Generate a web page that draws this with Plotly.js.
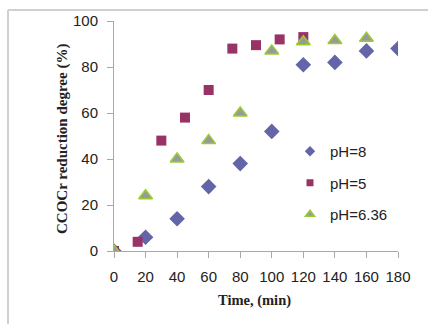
<!DOCTYPE html>
<html>
<head>
<meta charset="utf-8">
<script src="https://cdn.plot.ly/plotly-3.0.1.min.js"></script>
<style>
html,body{margin:0;padding:0;background:#fff;}
#chart{width:428px;height:324px;}
</style>
</head>
<body>
<div id="chart"></div>
<script>
// Data
const timePH8 = [0, 20, 40, 60, 80, 100, 120, 140, 160, 180];
const redPH8  = [0, 6, 14, 28, 38, 52, 81, 82, 87, 88];

const timePH5 = [0, 15, 30, 45, 60, 75, 90, 105, 120];
const redPH5  = [0, 4, 48, 58, 70, 88, 89.5, 92, 93];

const timePH636 = [0, 20, 40, 60, 80, 100, 120, 140, 160];
const redPH636  = [0, 24, 40, 48, 60, 87, 91, 91.5, 92.5];

const seriesNames = ['pH=8', 'pH=5', 'pH=6.36'];
const xTicks = [0, 20, 40, 60, 80, 100, 120, 140, 160, 180];
const yTicks = [0, 20, 40, 60, 80, 100];
const xTitle = 'Time, (min)';
const yTitle = 'CCOCr reduction degree (%)';

const styles = [
  {symbol: 'diamond', size: 12, color: '#6464a8'},
  {symbol: 'square', size: 10, color: '#993366'},
  {symbol: 'triangle-up', size: 12, color: '#999999', line: {color: '#99cc33', width: 1.5}}
];
const legendStyles = [
  {symbol: 'diamond', size: 8, color: '#6464a8'},
  {symbol: 'square', size: 7, color: '#993366'},
  {symbol: 'triangle-up', size: 8, color: '#999999', line: {color: '#99cc33', width: 1.5}}
];
const xs = [timePH8, timePH5, timePH636];
const ys = [redPH8, redPH5, redPH636];

const traces = [];
for (let i = 0; i < 3; i++) {
  traces.push({x: xs[i], y: ys[i], name: seriesNames[i], type: 'scatter', mode: 'markers',
               showlegend: false, marker: styles[i]});
}
for (let i = 0; i < 3; i++) {
  traces.push({x: [null], y: [null], name: seriesNames[i], legendgroup: 'g' + i, type: 'scatter',
               mode: 'markers', showlegend: true, marker: legendStyles[i], hoverinfo: 'skip'});
}

const L = 114, R = 398, T = 21, B = 251;
const px = v => (v - L) / (R - L);
const py = v => (B - v) / (B - T);

const layout = {
  width: 428, height: 324,
  margin: {l: L, r: 428 - R, t: T, b: 324 - B},
  paper_bgcolor: '#ffffff', plot_bgcolor: '#ffffff',
  showlegend: true,
  legend: {x: px(290), xanchor: 'left', y: py(135), yanchor: 'top',
           font: {family: 'Liberation Sans, Arial, sans-serif', size: 15, color: '#222'},
           tracegroupgap: 9, itemwidth: 30, bgcolor: 'rgba(0,0,0,0)'},
  xaxis: {range: [0, 180], tickvals: xTicks, ticktext: xTicks.map(String),
          showgrid: false, zeroline: false, showline: true, linecolor: '#a8a8a8', linewidth: 1,
          ticks: 'outside', ticklen: 6, tickcolor: '#a8a8a8', ticklabelstandoff: 6,
          tickfont: {family: 'Liberation Sans, Arial, sans-serif', size: 15, color: '#222'},
          title: {text: ''}},
  yaxis: {range: [0, 100], tickvals: yTicks, ticktext: yTicks.map(String),
          showgrid: false, zeroline: false, showline: true, linecolor: '#a8a8a8', linewidth: 1,
          ticks: 'outside', ticklen: 6, tickcolor: '#a8a8a8', ticklabelstandoff: 6,
          tickfont: {family: 'Liberation Sans, Arial, sans-serif', size: 15, color: '#222'},
          title: {text: ''}},
  annotations: [
    {text: '<b>' + xTitle + '</b>', xref: 'paper', yref: 'paper', x: px(254), y: py(300),
     xanchor: 'center', yanchor: 'middle', showarrow: false,
     font: {family: 'Liberation Serif, Times New Roman, serif', size: 14.5, color: '#222'}},
    {text: '<b>' + yTitle + '</b>', xref: 'paper', yref: 'paper', x: px(62), y: py(139),
     xanchor: 'center', yanchor: 'middle', textangle: -90, showarrow: false,
     font: {family: 'Liberation Serif, Times New Roman, serif', size: 15, color: '#222'}}
  ],
  shapes: [
    {type: 'line', xref: 'paper', yref: 'paper', x0: px(8), x1: px(430), y0: py(10), y1: py(10),
     line: {color: '#d0d0d0', width: 2}},
    {type: 'line', xref: 'paper', yref: 'paper', x0: px(8), x1: px(8), y0: py(10), y1: py(330),
     line: {color: '#d0d0d0', width: 2}}
  ]
};

Plotly.newPlot('chart', traces, layout, {displayModeBar: false, staticPlot: true});
</script>
</body>
</html>
